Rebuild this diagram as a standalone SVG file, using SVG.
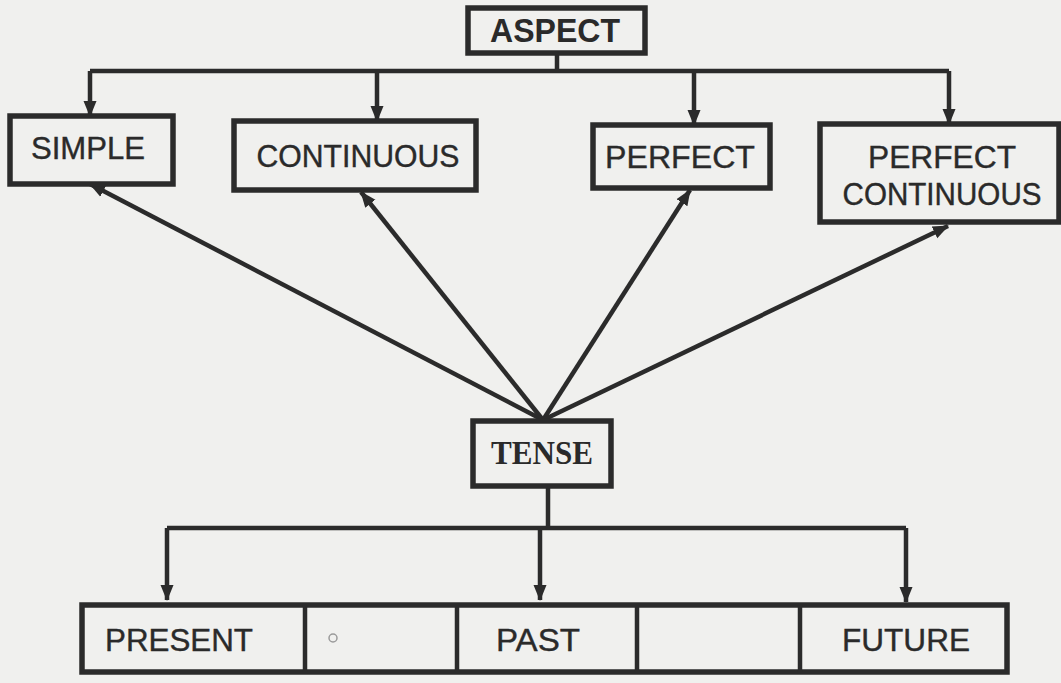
<svg xmlns="http://www.w3.org/2000/svg" width="1061" height="683" viewBox="0 0 1061 683">
<defs>
<marker id="ah" markerUnits="userSpaceOnUse" markerWidth="16" markerHeight="16" viewBox="0 0 16 16" refX="15" refY="8" orient="auto">
<path d="M0,1.5 L16,8 L0,14.5 Z" fill="#2b2b2b"/>
</marker>
</defs>
<style>
.box{fill:none;stroke:#2b2b2b;stroke-width:5.5}
.ln{fill:none;stroke:#2b2b2b;stroke-width:4.5}
.arr{fill:none;stroke:#2b2b2b;stroke-width:4.5;marker-end:url(#ah)}
.t{font-family:"Liberation Sans",Arial,sans-serif;font-size:32px;fill:#2a2a2a;stroke:#2a2a2a;stroke-width:0.4;text-anchor:middle}
.tb{font-family:"Liberation Sans",Arial,sans-serif;font-size:33px;font-weight:bold;fill:#2a2a2a;text-anchor:middle}
.ts{font-family:"Liberation Serif","Times New Roman",serif;font-size:33px;font-weight:bold;fill:#2a2a2a;text-anchor:middle}
</style>
<rect width="1061" height="683" fill="#f0f0ee"/>
<g id="connectors">
<path class="ln" d="M557,53 V71 M90,71 H949"/>
<path class="arr" d="M90,71 V116"/>
<path class="arr" d="M377,71 V121"/>
<path class="arr" d="M694,71 V125"/>
<path class="arr" d="M949,71 V124"/>
<path class="arr" d="M543,420 L90,184"/>
<path class="arr" d="M543,420 L361,192"/>
<path class="arr" d="M543,420 L690,190"/>
<path class="arr" d="M543,420 L948,226"/>
<path class="ln" d="M548,486 V528 M167,528 H906"/>
<path class="arr" d="M167,528 V600"/>
<path class="arr" d="M540,528 V600"/>
<path class="arr" d="M906,528 V602"/>
</g>
<g id="aspect">
<rect class="box" x="468" y="8" width="177" height="45"/>
<text class="tb" x="555" y="42" textLength="130" lengthAdjust="spacingAndGlyphs">ASPECT</text>
</g>
<g id="simple">
<rect class="box" x="10" y="116" width="163" height="68"/>
<text class="t" x="88" y="159" textLength="114" lengthAdjust="spacingAndGlyphs">SIMPLE</text>
</g>
<g id="continuous">
<rect class="box" x="234" y="121" width="242" height="69"/>
<text class="t" x="358" y="167" textLength="203" lengthAdjust="spacingAndGlyphs">CONTINUOUS</text>
</g>
<g id="perfect">
<rect class="box" x="593" y="125" width="177" height="63"/>
<text class="t" x="680" y="168" textLength="150" lengthAdjust="spacingAndGlyphs">PERFECT</text>
</g>
<g id="perfect-continuous">
<rect class="box" x="820" y="124" width="239" height="98"/>
<text class="t" x="942" y="168" textLength="148" lengthAdjust="spacingAndGlyphs">PERFECT</text>
<text class="t" x="942" y="205" textLength="199" lengthAdjust="spacingAndGlyphs">CONTINUOUS</text>
</g>
<g id="tense">
<rect class="box" x="473" y="421" width="138" height="65"/>
<text class="ts" x="542" y="464" textLength="102" lengthAdjust="spacingAndGlyphs">TENSE</text>
</g>
<g id="timeline">
<rect class="box" x="82" y="605" width="925" height="67"/>
<path class="ln" d="M305,605 V672 M457,605 V672 M637,605 V672 M800,605 V672"/>
<circle cx="333" cy="638" r="4" fill="none" stroke="#9a9a9a" stroke-width="1.5"/>
</g>
<g id="present"><text class="t" x="179" y="651" textLength="148" lengthAdjust="spacingAndGlyphs">PRESENT</text></g>
<g id="past"><text class="t" x="538" y="651" textLength="84" lengthAdjust="spacingAndGlyphs">PAST</text></g>
<g id="future"><text class="t" x="906" y="651" textLength="128" lengthAdjust="spacingAndGlyphs">FUTURE</text></g>
</svg>
